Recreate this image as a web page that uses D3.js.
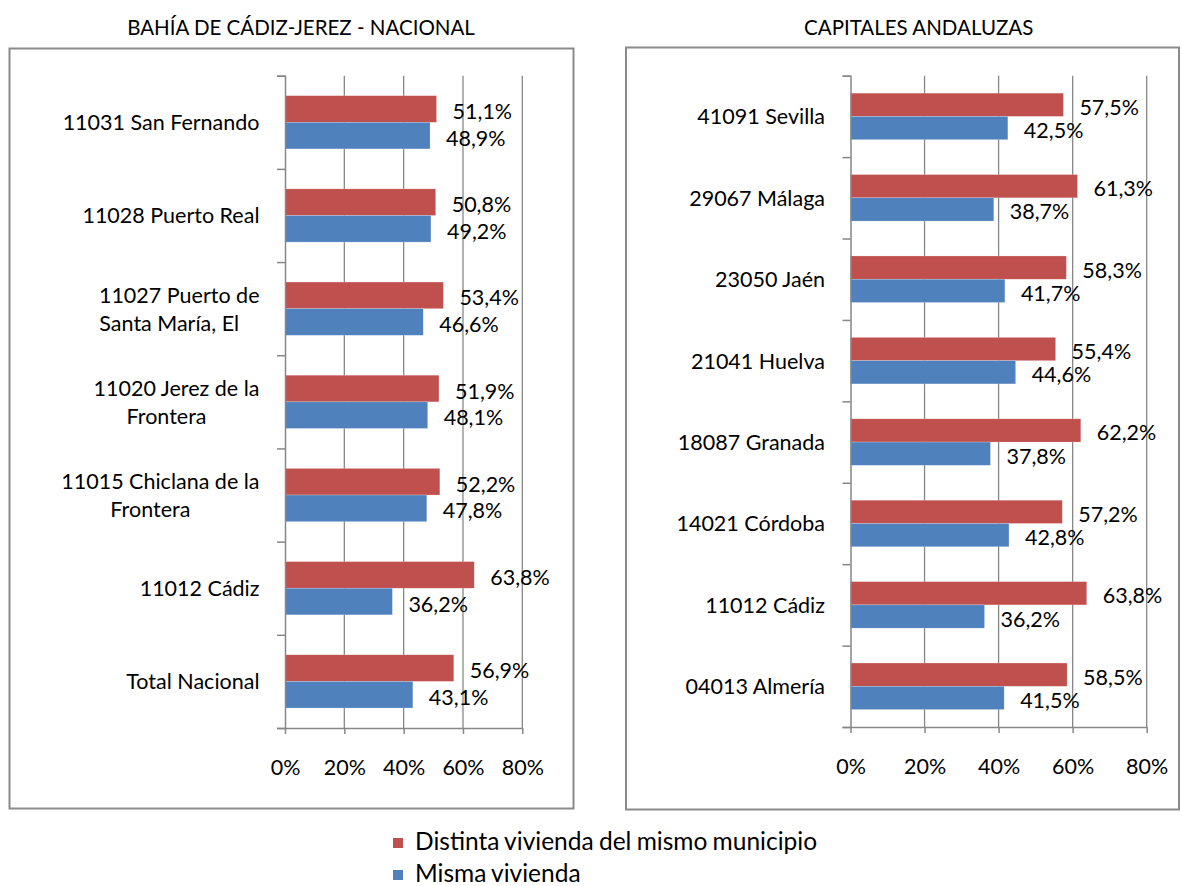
<!DOCTYPE html>
<html>
<head>
<meta charset="utf-8">
<script src="https://cdn.jsdelivr.net/npm/d3@7"></script>
<style>
  html, body { margin: 0; padding: 0; background: #fff; }
  svg { display: block; }
  text { font-family: Lato, "Open Sans", sans-serif; fill: #000; }
</style>
</head>
<body>
<svg id="chart" width="1182" height="886"></svg>
<script>
// Series shared by both panels
const seriesNames = ["Distinta vivienda del mismo municipio", "Misma vivienda"];
const seriesColors = ["#C0504D", "#4F81BD"];
const xTickValues = [0, 20, 40, 60, 80];

// Panel 1: Bahía de Cádiz-Jerez vs. national total
const bahiaTitle = "BAHÍA DE CÁDIZ-JEREZ - NACIONAL";
const bahiaCategories = [
  ["11031 San Fernando"],
  ["11028 Puerto Real"],
  ["11027 Puerto de", "Santa María, El"],
  ["11020 Jerez de la", "Frontera"],
  ["11015 Chiclana de la", "Frontera"],
  ["11012 Cádiz"],
  ["Total Nacional"]
];
const bahiaDistinta = [51.1, 50.8, 53.4, 51.9, 52.2, 63.8, 56.9];
const bahiaMisma    = [48.9, 49.2, 46.6, 48.1, 47.8, 36.2, 43.1];

// Panel 2: Andalusian provincial capitals
const capitalesTitle = "CAPITALES ANDALUZAS";
const capitalesCategories = [
  ["41091 Sevilla"],
  ["29067 Málaga"],
  ["23050 Jaén"],
  ["21041 Huelva"],
  ["18087 Granada"],
  ["14021 Córdoba"],
  ["11012 Cádiz"],
  ["04013 Almería"]
];
const capitalesDistinta = [57.5, 61.3, 58.3, 55.4, 62.2, 57.2, 63.8, 58.5];
const capitalesMisma    = [42.5, 38.7, 41.7, 44.6, 37.8, 42.8, 36.2, 41.5];

const svg = d3.select("#chart");
const GRID = "#878787";
const FONT = 21.5;

const esLocale = d3.formatLocale({ decimal: ",", thousands: ".", grouping: [3], currency: ["", " €"] });
const fmtValue = v => esLocale.format(".1f")(v) + "%";

function drawPanel(cfg) {
  const { title, categories, series, box, plot, labelRight, titlePos } = cfg;
  const g = svg.append("g");

  // frame
  g.append("rect")
    .attr("x", box.x).attr("y", box.y)
    .attr("width", box.w).attr("height", box.h)
    .attr("fill", "#fff").attr("stroke", "#8a8a8a").attr("stroke-width", 2);

  // title
  svg.append("text")
    .attr("x", titlePos.x).attr("y", titlePos.y)
    .attr("text-anchor", "middle")
    .style("font-size", FONT - 1 + "px")
    .text(title);

  const x = d3.scaleLinear().domain([0, 80]).range([plot.left, plot.right]);
  const idx = d3.range(categories.length);
  const y = d3.scaleBand().domain(idx).range([plot.top, plot.bottom]);
  const ySub = d3.scaleBand().domain([0, 1]).range([0, y.bandwidth()]).paddingOuter(0.75);

  // vertical gridlines
  g.append("g").selectAll("line")
    .data(xTickValues.filter(t => t > 0))
    .join("line")
    .attr("x1", d => x(d)).attr("x2", d => x(d))
    .attr("y1", plot.top).attr("y2", plot.bottom)
    .attr("stroke", GRID).attr("stroke-width", 1.3);

  // bars
  series.forEach((vals, s) => {
    g.append("g").selectAll("rect")
      .data(vals)
      .join("rect")
      .attr("x", x(0))
      .attr("y", (d, i) => y(i) + ySub(s))
      .attr("width", d => x(d) - x(0))
      .attr("height", ySub.bandwidth())
      .attr("fill", seriesColors[s])
      .attr("stroke", "#fff").attr("stroke-opacity", 0.35).attr("stroke-width", 0.6);
  });

  // value labels
  series.forEach((vals, s) => {
    g.append("g").selectAll("text")
      .data(vals)
      .join("text")
      .attr("x", d => x(d) + 16)
      .attr("y", (d, i) => y(i) + ySub(s) + ySub.bandwidth() / 2 + 2)
      .attr("dominant-baseline", "central")
      .style("font-size", FONT + "px")
      .text(d => fmtValue(d));
  });

  // category axis (ticks between categories)
  const yEdge = d3.scaleLinear().domain([0, categories.length]).range([plot.top, plot.bottom]);
  const yAxis = g.append("g")
    .attr("transform", `translate(${plot.left},0)`)
    .call(d3.axisLeft(yEdge).tickValues(d3.range(categories.length + 1)).tickSize(8).tickFormat(""));
  yAxis.selectAll("path, line").attr("stroke", GRID).attr("stroke-width", 1.5);

  // value axis
  const xAxis = g.append("g")
    .attr("transform", `translate(0,${plot.bottom})`)
    .call(d3.axisBottom(x).tickValues(xTickValues).tickSize(6).tickSizeOuter(0)
      .tickFormat(d => d + "%"));
  xAxis.selectAll("path, line").attr("stroke", GRID).attr("stroke-width", 1.5);
  xAxis.selectAll("text")
    .attr("y", 47)
    .attr("dy", 0)
    .style("font-size", FONT + "px")
    .style("font-family", "Lato, 'Open Sans', sans-serif")
    .attr("fill", "#000");

  // category labels (one or two lines)
  const lineGap = 28;
  categories.forEach((lines, i) => {
    const cy = y(i) + y.bandwidth() / 2;
    const y0 = cy - (lines.length - 1) * lineGap / 2;
    const first = g.append("text")
      .attr("x", labelRight).attr("y", y0)
      .attr("text-anchor", "end")
      .attr("dominant-baseline", "central")
      .style("font-size", FONT + "px")
      .text(lines[0]);
    if (lines.length > 1) {
      const w1 = first.node().getComputedTextLength();
      g.append("text")
        .attr("x", labelRight - w1 / 2 - 10).attr("y", y0 + lineGap)
        .attr("text-anchor", "middle")
        .attr("dominant-baseline", "central")
        .style("font-size", FONT + "px")
        .text(lines[1]);
    }
  });
}

drawPanel({
  title: bahiaTitle,
  categories: bahiaCategories,
  series: [bahiaDistinta, bahiaMisma],
  box: { x: 9.5, y: 48.5, w: 564, h: 760 },
  plot: { left: 285, right: 522.3, top: 75.7, bottom: 728 },
  labelRight: 259.5,
  titlePos: { x: 301, y: 35 }
});

drawPanel({
  title: capitalesTitle,
  categories: capitalesCategories,
  series: [capitalesDistinta, capitalesMisma],
  box: { x: 626, y: 47.5, w: 553, h: 762 },
  plot: { left: 850.5, right: 1146.7, top: 75.7, bottom: 727 },
  labelRight: 825,
  titlePos: { x: 918.7, y: 35 }
});

// legend
const legend = svg.append("g").attr("transform", "translate(393,0)");
const legendBaselines = [850, 882];
seriesNames.forEach((name, i) => {
  const base = legendBaselines[i];
  legend.append("rect")
    .attr("x", 0).attr("y", base - 12)
    .attr("width", 10).attr("height", 10)
    .attr("fill", seriesColors[i]);
  legend.append("text")
    .attr("x", 22).attr("y", base)
    .style("font-size", "24.5px")
    .style("word-spacing", "-1px")
    .attr("fill", "#2a2a2a")
    .text(name);
});
</script>
</body>
</html>
